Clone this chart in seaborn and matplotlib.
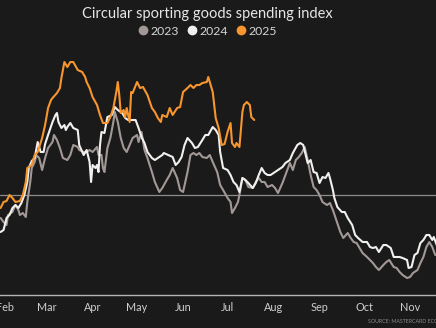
import numpy as np
import pandas as pd
import matplotlib
matplotlib.use("Agg")
import matplotlib.pyplot as plt
from matplotlib.lines import Line2D
import seaborn as sns

# Spending index by day of year (100 = baseline)
days_2023 = [29, 31, 33, 34, 37, 39, 41, 42, 44, 46, 47, 49, 50, 52, 53, 55, 57, 59, 61, 64,
             65, 67, 69, 71, 74, 76, 78, 81, 82, 85, 87, 89, 91, 94, 95, 97, 98, 99, 101, 103,
             105, 106, 108, 110, 112, 114, 116, 118, 121, 122, 124, 126, 128, 131, 133, 136, 138, 141, 143, 145,
             148, 150, 152, 155, 157, 159, 161, 163, 165, 168, 170, 172, 175, 177, 179, 182, 184, 185, 187, 189,
             190, 192, 194, 196, 199, 201, 203, 205, 207, 209, 212, 214, 216, 219, 221, 223, 224, 226, 228, 230,
             232, 234, 236, 238, 240, 242, 244, 246, 249, 251, 253, 256, 258, 260, 263, 265, 267, 269, 271, 273,
             276, 278, 280, 282, 284, 287, 289, 291, 294, 296, 298, 300, 303, 305, 307, 310, 312, 314, 316, 318,
             320, 322]
index_2023 = [97.7, 97.3, 97.0, 98.0, 98.3, 99.0, 98.5, 98.0, 98.2, 97.8, 99.3, 101.3, 102.7, 103.3, 104.0, 103.7, 102.5, 103.7, 104.7, 105.3,
              106.0, 105.5, 104.7, 103.7, 103.5, 104.0, 105.0, 104.8, 104.5, 104.3, 104.3, 104.5, 104.3, 104.8, 104.0, 104.0, 102.7, 102.3, 104.7, 105.7,
              107.3, 108.3, 107.3, 105.7, 104.7, 104.3, 105.0, 105.7, 106.0, 105.3, 106.3, 104.5, 103.7, 102.3, 101.3, 100.3, 100.7, 101.5, 102.0, 102.7,
              101.7, 100.5, 100.3, 102.3, 104.0, 104.2, 104.0, 104.2, 103.8, 103.7, 104.0, 103.3, 102.3, 101.0, 100.5, 99.7, 99.3, 98.2, 98.7, 99.3,
              100.0, 101.7, 101.5, 100.8, 100.7, 101.3, 101.7, 101.3, 101.3, 100.8, 101.0, 100.7, 100.2, 101.2, 102.0, 102.8, 103.2, 102.5, 103.5, 103.8,
              104.2, 104.8, 103.5, 102.0, 100.8, 100.5, 100.0, 99.3, 99.0, 99.2, 98.5, 97.2, 96.3, 95.7, 96.2, 95.7, 95.3, 95.2, 94.7, 94.2,
              93.8, 93.5, 93.2, 92.8, 92.5, 93.0, 93.3, 93.5, 92.8, 92.7, 92.3, 92.0, 91.7, 91.8, 92.2, 92.5, 93.2, 93.8, 94.8, 95.3,
              94.8, 94.0]

days_2024 = [29, 31, 33, 35, 37, 39, 41, 43, 45, 47, 48, 50, 52, 54, 56, 58, 59, 61, 64, 66,
             67, 68, 70, 72, 73, 74, 76, 78, 81, 82, 85, 87, 89, 90, 91, 93, 94, 95, 96, 97,
             99, 101, 104, 106, 108, 111, 113, 115, 118, 120, 122, 124, 126, 128, 131, 133, 135, 138, 139, 142,
             145, 147, 149, 151, 153, 155, 158, 160, 162, 165, 167, 169, 172, 174, 176, 177, 179, 182, 184, 186,
             188, 190, 192, 194, 196, 199, 201, 203, 205, 207, 209, 211, 214, 216, 219, 221, 223, 224, 226, 229,
             231, 233, 235, 236, 238, 240, 242, 244, 246, 248, 250, 251, 253, 254, 256, 259, 261, 263, 266, 268,
             270, 273, 276, 278, 280, 282, 284, 287, 289, 292, 294, 296, 298, 300, 303, 304, 306, 308, 310, 312,
             314, 316, 318, 320, 321, 323]
index_2024 = [96.3, 96.5, 97.7, 98.0, 98.7, 99.0, 98.7, 99.2, 100.0, 101.3, 102.7, 103.4, 103.7, 105.3, 104.3, 104.3, 105.1, 106.0, 107.3, 108.0,
              108.2, 107.3, 106.7, 107.0, 106.5, 106.8, 107.2, 106.7, 106.5, 105.0, 104.0, 104.5, 103.3, 101.3, 103.0, 102.7, 103.0, 102.3, 105.0, 106.3,
              106.2, 107.8, 108.0, 108.8, 108.5, 108.2, 107.7, 107.5, 107.5, 107.5, 106.7, 105.8, 105.2, 104.3, 103.7, 103.5, 103.7, 104.0, 104.2, 104.0,
              103.8, 103.0, 103.3, 103.8, 105.0, 105.7, 105.2, 104.7, 104.8, 105.5, 106.0, 106.0, 106.8, 106.5, 106.0, 104.3, 102.7, 102.5, 102.0, 101.3,
              101.0, 100.3, 101.7, 101.5, 101.2, 100.7, 101.2, 102.0, 102.7, 102.2, 102.0, 102.0, 102.3, 102.5, 102.8, 103.2, 103.4, 103.5, 104.2, 105.0,
              105.2, 105.0, 103.8, 103.2, 103.5, 102.3, 102.2, 101.2, 101.8, 101.7, 102.2, 101.7, 100.5, 99.7, 98.8, 98.3, 98.3, 97.7, 97.0, 96.0,
              95.7, 95.3, 95.3, 94.8, 94.7, 94.8, 94.3, 95.0, 95.0, 94.7, 93.8, 93.8, 93.8, 93.7, 93.5, 92.7, 92.8, 94.0, 94.2, 95.2,
              95.5, 96.0, 96.0, 95.5, 95.8, 95.0]

days_2025 = [29, 31, 33, 35, 37, 39, 42, 44, 46, 47, 50, 52, 54, 57, 59, 61, 63, 64, 67, 69,
             70, 72, 74, 76, 78, 81, 84, 86, 87, 89, 91, 94, 96, 98, 101, 103, 105, 107, 108, 109,
             110, 112, 113, 114, 116, 117, 118, 121, 123, 125, 128, 131, 133, 135, 137, 138, 141, 143, 145, 148,
             150, 152, 155, 157, 159, 161, 163, 165, 168, 169, 172, 173, 174, 176, 178, 180, 182, 184, 185, 187,
             188, 190, 192, 193, 195, 197, 198, 200]
index_2025 = [98.7, 99.3, 99.4, 100.0, 99.7, 99.3, 99.4, 100.0, 101.3, 102.7, 103.0, 104.0, 104.3, 105.7, 107.0, 108.7, 109.5, 109.7, 110.2, 110.7,
              111.7, 113.3, 112.8, 113.3, 113.3, 112.5, 112.3, 111.8, 111.3, 110.7, 109.8, 109.0, 108.0, 107.2, 107.2, 107.8, 108.7, 110.3, 111.3, 110.0,
              108.2, 108.5, 107.8, 108.7, 107.3, 110.3, 110.2, 111.3, 110.7, 110.8, 110.0, 108.7, 108.3, 107.7, 107.3, 108.0, 107.8, 108.7, 108.0, 108.7,
              108.8, 110.3, 110.7, 111.0, 110.7, 111.0, 111.0, 111.2, 111.3, 111.8, 110.3, 109.0, 107.7, 106.7, 105.0, 105.1, 106.3, 107.2, 105.2, 104.8,
              105.2, 104.8, 108.3, 109.0, 109.3, 109.0, 107.8, 107.5]

years = ["2023", "2024", "2025"]
colors = ["#a29996", "#f2f0ee", "#f7952e"]
month_starts = [32, 60, 91, 121, 152, 182, 213, 244, 274, 305]
month_labels = ["Feb", "Mar", "Apr", "May", "Jun", "Jul", "Aug", "Sep", "Oct", "Nov"]

df = pd.concat([
    pd.DataFrame({"day": days_2023, "index": index_2023, "year": "2023"}),
    pd.DataFrame({"day": days_2024, "index": index_2024, "year": "2024"}),
    pd.DataFrame({"day": days_2025, "index": index_2025, "year": "2025"}),
], ignore_index=True)

bg = "#1a1a1a"
sns.set_theme(style="dark")
plt.rcParams["font.family"] = ["Lato", "DejaVu Sans"]

fig = plt.figure(figsize=(4.36, 3.28), dpi=100, facecolor=bg)
ax = fig.add_axes([0.0, 0.1006, 1.0, 0.7317])
ax.set_facecolor(bg)

ax.axhline(100, color="#8c8c8c", lw=0.9, zorder=1)

sns.lineplot(data=df, x="day", y="index", hue="year", hue_order=years,
             palette=dict(zip(years, colors)), estimator=None, sort=False,
             linewidth=1.5, legend=False, ax=ax, zorder=3)

ax.set_xlim(28.6, 322.5)
ax.set_ylim(90, 114)
ax.set_xticks(month_starts)
ax.set_xticklabels(month_labels)
ax.set_yticks([])
ax.set_xlabel("")
ax.set_ylabel("")
ax.tick_params(axis="x", length=0, pad=5, labelsize=7.8, labelcolor="#cfcfcf")
ax.grid(False)
for side in ["top", "left", "right"]:
    ax.spines[side].set_visible(False)
ax.spines["bottom"].set_color("#b5b5b5")
ax.spines["bottom"].set_linewidth(1.0)

fig.text(0.475, 0.957, "Circular sporting goods spending index", ha="center", va="center",
         fontsize=10.5, color="#e6e6e6")

handles = [Line2D([], [], linestyle="none", marker="o", markersize=6,
                  markerfacecolor=c, markeredgecolor=c) for c in colors]
fig.legend(handles, years, loc="center", bbox_to_anchor=(0.475, 0.905), ncol=3,
           frameon=False, handletextpad=0.1, columnspacing=0.6, handlelength=1.0,
           fontsize=8.8, labelcolor="#d6d6d6")

fig.text(0.844, 0.0213, "SOURCE: MASTERCARD ECONOMICS INSTITUTE", ha="left", va="center",
         fontsize=3.8, color="#8a8a8a")

fig.savefig("out.png", dpi=100, facecolor=bg)
